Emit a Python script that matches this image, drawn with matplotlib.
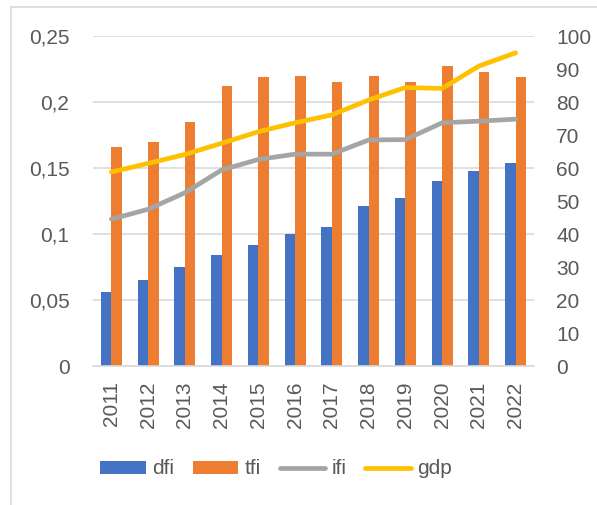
import matplotlib
matplotlib.use("Agg")
import matplotlib.pyplot as plt
import matplotlib.patches as mpatches
import numpy as np

# data
years = ["2011", "2012", "2013", "2014", "2015", "2016",
         "2017", "2018", "2019", "2020", "2021", "2022"]
dfi = [0.056, 0.065, 0.075, 0.084, 0.092, 0.100,
       0.1055, 0.121, 0.127, 0.140, 0.148, 0.154]
tfi = [0.166, 0.170, 0.185, 0.212, 0.219, 0.220,
       0.215, 0.220, 0.215, 0.227, 0.2225, 0.219]
ifi = [44.5, 47.5, 52.5, 59.4, 62.6, 64.2,
       64.2, 68.5, 68.6, 73.7, 74.2, 74.8]
gdp = [58.8, 61.4, 64.1, 67.5, 71.0, 73.7,
       76.1, 80.6, 84.4, 84.1, 90.9, 94.9]
left_ticks = [0, 0.05, 0.1, 0.15, 0.2, 0.25]
left_labels = ["0", "0,05", "0,1", "0,15", "0,2", "0,25"]
right_ticks = list(range(0, 101, 10))

BLUE = "#4472C4"
ORANGE = "#ED7D31"
GREY = "#A5A5A5"
GOLD = "#FFC000"
TEXT = "#595959"
GRID = "#D9D9D9"

plt.rcParams["font.family"] = ["Liberation Sans", "DejaVu Sans"]

fig = plt.figure(figsize=(5.97, 5.05), dpi=100)
ax = fig.add_axes([0.1558, 0.2752, 0.7387, 0.6535])
ax2 = ax.twinx()

x = np.arange(len(years))
w = 0.285
ax.bar(x - w / 2, dfi, w, color=BLUE, label="dfi", zorder=2)
ax.bar(x + w / 2, tfi, w, color=ORANGE, label="tfi", zorder=2)
ax2.plot(x, ifi, color=GREY, lw=3.4, label="ifi", solid_capstyle="round")
ax2.plot(x, gdp, color=GOLD, lw=3.4, label="gdp", solid_capstyle="round")

ax.set_xlim(-0.5, len(years) - 0.5)
ax.set_ylim(0, 0.25)
ax2.set_ylim(0, 100)

ax.set_yticks(left_ticks)
ax.set_yticklabels(left_labels)
ax2.set_yticks(right_ticks)
ax.set_xticks(x)
ax.set_xticklabels(years, rotation=90)

ax.yaxis.grid(True, color=GRID, lw=1.2)
ax.set_axisbelow(True)

ax.tick_params(axis="y", length=0, pad=17, labelsize=15, labelcolor=TEXT)
ax.tick_params(axis="x", length=0, pad=11, labelsize=15, labelcolor=TEXT)
ax2.tick_params(axis="y", length=0, pad=16, labelsize=15, labelcolor=TEXT)

for a in (ax, ax2):
    for s in a.spines.values():
        s.set_visible(False)
ax.spines["bottom"].set_visible(True)
ax.spines["bottom"].set_color(GRID)
ax.spines["bottom"].set_linewidth(1.2)

h1, l1 = ax.get_legend_handles_labels()
h2, l2 = ax2.get_legend_handles_labels()
leg = fig.legend(h1 + h2, l1 + l2, loc="center", bbox_to_anchor=(276 / 597, 1 - 469 / 505),
                 ncol=4, frameon=False, fontsize=15, handlelength=2.2,
                 handleheight=0.6, handletextpad=0.3, columnspacing=0.9)
for t in leg.get_texts():
    t.set_color(TEXT)

# light frame around the chart area, as in the spreadsheet export
fig.patches.append(mpatches.Rectangle((11 / 597, -0.02), 1.0, 1 - 7 / 505 + 0.02,
                                      transform=fig.transFigure, fill=False,
                                      edgecolor=GRID, lw=1.2))

fig.savefig("out.png", dpi=100)
